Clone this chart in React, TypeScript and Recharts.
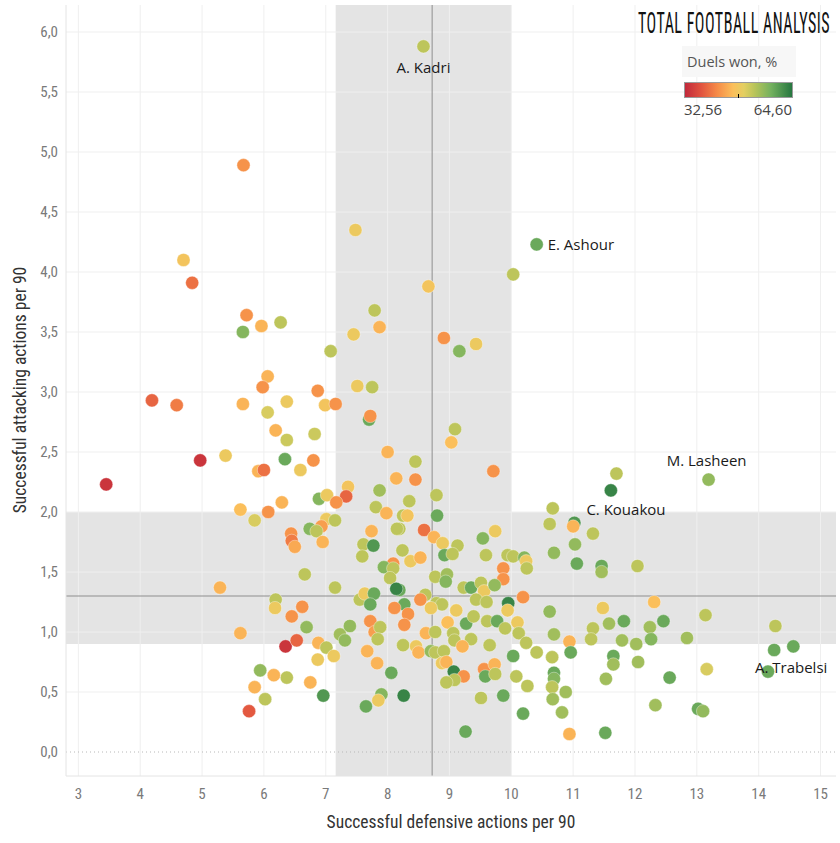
import React from 'react';
import { ScatterChart, Scatter, XAxis, YAxis, ReferenceArea, ReferenceLine } from 'recharts';

// [successful defensive actions p90, successful attacking actions p90, duels won %, label]
type Player = [number, number, number, string?];

const players: Player[] = [
  [8.58, 5.88, 53, 'A. Kadri'], [5.67, 4.89, 43], [10.41, 4.23, 59, 'E. Ashour'], [7.48, 4.35, 49],
  [10.03, 3.98, 53], [8.66, 3.88, 48], [4.70, 4.10, 48], [4.84, 3.91, 40], [5.72, 3.64, 43],
  [5.96, 3.55, 46], [6.27, 3.58, 53], [5.66, 3.50, 57], [7.08, 3.34, 53], [6.06, 3.13, 46],
  [5.98, 3.04, 43], [6.87, 3.01, 43], [4.19, 2.93, 39], [4.59, 2.89, 41], [5.66, 2.90, 46],
  [6.37, 2.92, 49], [6.99, 2.89, 48], [7.16, 2.90, 43], [6.06, 2.83, 51], [6.19, 2.68, 46],
  [6.37, 2.60, 52], [6.82, 2.65, 52], [5.38, 2.47, 49], [7.79, 3.68, 53], [7.87, 3.54, 46],
  [7.45, 3.48, 49], [8.91, 3.45, 43], [9.16, 3.34, 57], [9.43, 3.40, 49], [7.51, 3.05, 49],
  [7.75, 3.04, 53], [7.70, 2.77, 59], [7.72, 2.80, 43], [9.09, 2.69, 53], [9.03, 2.58, 47],
  [9.71, 2.34, 43], [8.45, 2.42, 53], [8.45, 2.27, 43], [8.35, 2.09, 53], [8.79, 2.14, 53],
  [8.80, 1.97, 59], [8.25, 1.97, 53], [8.32, 1.97, 48], [8.19, 1.86, 53], [8.59, 1.85, 40],
  [8.75, 1.79, 46], [8.89, 1.74, 49], [9.13, 1.72, 53], [8.92, 1.64, 59], [9.05, 1.65, 53],
  [8.24, 1.68, 53], [8.37, 1.59, 49], [8.53, 1.62, 46], [9.74, 1.84, 49], [9.54, 1.78, 57],
  [9.59, 1.64, 53], [9.94, 1.64, 53], [10.03, 1.63, 53], [10.21, 1.62, 57], [9.87, 1.53, 43],
  [9.87, 1.44, 43], [8.77, 1.46, 53], [8.96, 1.48, 55], [8.94, 1.42, 57], [9.23, 1.37, 53],
  [9.35, 1.37, 59], [9.51, 1.41, 53], [9.56, 1.34, 49], [9.73, 1.39, 56], [8.19, 1.35, 59],
  [8.61, 1.31, 53], [8.53, 1.27, 43], [8.79, 1.24, 53], [8.88, 1.23, 53], [9.43, 1.27, 53],
  [9.60, 1.25, 53], [9.95, 1.24, 63], [10.19, 1.29, 43], [8.27, 1.23, 59], [9.11, 1.18, 49],
  [8.70, 1.20, 49], [8.33, 1.15, 43], [8.27, 1.06, 43], [8.62, 0.99, 46], [8.77, 1.00, 53],
  [8.97, 1.08, 47], [9.27, 1.07, 59], [9.06, 0.99, 53], [9.39, 1.13, 53], [9.61, 1.09, 53],
  [9.77, 1.09, 59], [9.90, 1.03, 53], [10.10, 1.08, 49], [10.12, 0.99, 53], [9.94, 1.18, 49],
  [9.08, 0.93, 53], [9.35, 0.94, 53], [9.21, 0.88, 46], [8.25, 0.89, 53], [8.46, 0.88, 49],
  [8.50, 0.83, 46], [8.70, 0.84, 56], [8.77, 0.83, 53], [8.91, 0.84, 53], [8.88, 0.74, 49],
  [8.95, 0.75, 46], [9.65, 0.89, 53], [10.03, 0.80, 59], [9.07, 0.67, 63], [9.23, 0.63, 43],
  [9.08, 0.60, 53], [8.95, 0.58, 53], [9.56, 0.69, 43], [9.73, 0.73, 46], [9.58, 0.63, 59],
  [9.74, 0.65, 53], [10.08, 0.63, 53], [10.26, 0.55, 53], [8.26, 0.47, 63], [9.51, 0.45, 53],
  [9.87, 0.47, 59], [10.19, 0.32, 59], [9.26, 0.17, 59], [10.24, 0.91, 53], [6.34, 2.44, 59],
  [6.80, 2.43, 43], [6.59, 2.35, 49], [6.29, 2.08, 46], [6.89, 2.11, 57], [7.02, 2.14, 49],
  [7.36, 2.21, 48], [7.33, 2.13, 39], [7.17, 2.08, 43], [8.00, 2.50, 46], [8.14, 2.28, 46],
  [7.87, 2.18, 55], [7.81, 2.04, 53], [7.98, 1.99, 46], [8.15, 1.86, 53], [7.74, 1.84, 46],
  [7.01, 1.94, 49], [7.15, 1.93, 53], [6.93, 1.88, 44], [6.74, 1.86, 57], [6.85, 1.84, 53],
  [6.44, 1.82, 43], [6.45, 1.76, 41], [6.50, 1.71, 45], [6.95, 1.75, 46], [7.61, 1.73, 53],
  [7.77, 1.72, 61], [7.59, 1.63, 53], [8.09, 1.57, 43], [7.94, 1.54, 57], [8.09, 1.53, 53],
  [8.04, 1.45, 53], [8.14, 1.36, 63], [6.66, 1.48, 53], [7.15, 1.37, 53], [7.55, 1.27, 53],
  [7.63, 1.32, 49], [7.78, 1.32, 59], [7.72, 1.23, 59], [6.62, 1.21, 43], [8.11, 1.20, 43],
  [6.19, 1.27, 53], [6.18, 1.20, 49], [6.45, 1.13, 43], [6.69, 1.04, 56], [6.35, 0.88, 34],
  [6.53, 0.93, 39], [6.88, 0.91, 46], [7.01, 0.87, 53], [7.13, 0.80, 49], [6.87, 0.77, 49],
  [7.23, 0.98, 55], [7.31, 0.93, 56], [7.39, 1.05, 56], [6.37, 0.62, 53], [6.75, 0.58, 46],
  [6.96, 0.47, 61], [7.72, 1.09, 43], [7.79, 1.00, 44], [7.88, 1.04, 53], [7.84, 0.94, 53],
  [7.67, 0.84, 46], [7.83, 0.74, 46], [8.06, 0.66, 59], [7.90, 0.48, 57], [7.85, 0.43, 49],
  [7.65, 0.38, 59], [4.97, 2.43, 34], [5.91, 2.34, 46], [6.00, 2.35, 40], [3.45, 2.23, 34],
  [5.62, 2.02, 47], [5.85, 1.93, 51], [6.07, 2.00, 43], [5.29, 1.37, 46], [5.62, 0.99, 46],
  [5.94, 0.68, 56], [6.16, 0.64, 46], [5.85, 0.54, 46], [6.02, 0.44, 53], [5.76, 0.34, 38],
  [11.61, 2.18, 63], [11.70, 2.32, 53], [13.19, 2.27, 56, 'M. Lasheen'], [10.67, 2.03, 53],
  [10.62, 1.90, 53], [11.02, 1.91, 61, 'C. Kouakou'], [11.00, 1.88, 46], [11.32, 1.82, 53],
  [11.03, 1.73, 56], [10.69, 1.66, 56], [10.24, 1.59, 49], [10.25, 1.53, 53], [11.06, 1.57, 59],
  [11.46, 1.55, 59], [11.46, 1.50, 55], [12.04, 1.55, 53], [10.62, 1.17, 56], [11.48, 1.20, 49],
  [12.31, 1.25, 47], [10.69, 0.98, 55], [10.94, 0.92, 46], [11.32, 1.03, 53], [11.29, 0.94, 53],
  [11.58, 1.07, 55], [11.82, 1.09, 59], [11.79, 0.93, 55], [12.02, 0.90, 55], [12.24, 1.04, 55],
  [12.26, 0.94, 57], [12.46, 1.09, 59], [10.41, 0.83, 53], [10.66, 0.79, 53], [10.96, 0.83, 59],
  [11.65, 0.80, 59], [11.65, 0.73, 55], [12.05, 0.75, 55], [10.69, 0.66, 59], [10.69, 0.61, 57],
  [10.66, 0.54, 53], [10.88, 0.50, 55], [10.67, 0.44, 55], [11.53, 0.61, 55], [12.56, 0.62, 59],
  [10.82, 0.33, 55], [12.33, 0.39, 55], [10.94, 0.15, 46], [11.52, 0.16, 59], [13.14, 1.14, 53],
  [12.84, 0.95, 55], [14.27, 1.05, 53], [14.25, 0.85, 59], [14.56, 0.88, 59],
  [14.15, 0.67, 59, 'A. Trabelsi'], [13.16, 0.69, 51], [13.02, 0.36, 59], [13.10, 0.34, 56],
];

const xTicks = [3, 4, 5, 6, 7, 8, 9, 10, 11, 12, 13, 14, 15];
const yTicks = [0, 0.5, 1, 1.5, 2, 2.5, 3, 3.5, 4, 4.5, 5, 5.5, 6];
const duelRange = [32.56, 64.6];
const avgDefensive = 8.72;
const avgAttacking = 1.3;
const defensiveBand = [7.16, 10.0];
const attackingBand = [0.9, 2.0];

const X_DOMAIN = [2.8, 15.25];
const Y_DOMAIN = [-0.2, 6.225];
const AXIS_FONT = '"Liberation Sans Narrow", "Roboto Condensed", Roboto, sans-serif';
const LABEL_FONT = '"Open Sans", "Noto Sans", sans-serif';

// red -> orange -> yellow -> green diverging ramp
const rampStops: [number, number[]][] = [
  [0, [192, 40, 59]],
  [0.15, [224, 82, 63]],
  [0.3, [245, 138, 71]],
  [0.45, [251, 191, 91]],
  [0.55, [227, 207, 98]],
  [0.65, [184, 196, 90]],
  [0.8, [116, 177, 95]],
  [1, [36, 117, 63]],
];

const rampColor = (t: number) => {
  const v = Math.max(0, Math.min(1, t));
  for (let i = 1; i < rampStops.length; i++) {
    const [t1, c1] = rampStops[i];
    const [t0, c0] = rampStops[i - 1];
    if (v <= t1) {
      const f = (v - t0) / (t1 - t0);
      const c = c0.map((a, k) => Math.round(a + (c1[k] - a) * f));
      return `rgb(${c[0]},${c[1]},${c[2]})`;
    }
  }
  return 'rgb(36,117,63)';
};

const duelColor = (d: number) => rampColor((d - duelRange[0]) / (duelRange[1] - duelRange[0]));

const labelPlacement: Record<string, { dx: number; dy: number; anchor: string }> = {
  'A. Kadri': { dx: 0, dy: 21, anchor: 'middle' },
  'E. Ashour': { dx: 11, dy: 0, anchor: 'start' },
  'M. Lasheen': { dx: -2, dy: -20, anchor: 'middle' },
  'C. Kouakou': { dx: 12, dy: -14, anchor: 'start' },
  'A. Trabelsi': { dx: -13, dy: -5, anchor: 'start' },
};

const renderDot = (props: any) => {
  const { cx, cy } = props;
  const p = props.payload ?? props;
  return (
    <circle cx={cx} cy={cy} r={6.6} fill={duelColor(p.duel)} stroke="#ffffff" strokeWidth={0.6} strokeOpacity={0.6} />
  );
};

const renderLabel = (props: any) => {
  const { cx, cy } = props;
  const p = props.payload ?? props;
  const pos = labelPlacement[p.name] ?? { dx: 8, dy: 0, anchor: 'start' };
  return (
    <text
      x={cx + pos.dx}
      y={cy + pos.dy}
      textAnchor={pos.anchor as any}
      dominantBaseline="central"
      fontFamily={LABEL_FONT}
      fontSize={15}
      fill="#1a1a1a"
    >
      {p.name}
    </text>
  );
};

const fmt = (v: number) => v.toFixed(1).replace('.', ',');

export default function App() {
  const data = players.map(([x, y, duel, name]) => ({ x, y, duel, name }));
  const labelled = data.filter((d) => d.name);
  const gradStops = rampStops.map(([t]) => t);

  return (
    <div style={{ position: 'absolute', left: 0, top: 0, width: 840, height: 843, background: '#ffffff' }}>
      <ScatterChart width={840} height={843} margin={{ top: 5, right: 4, bottom: 0, left: 0 }}>
        <XAxis
          type="number"
          dataKey="x"
          domain={X_DOMAIN}
          ticks={xTicks}
          interval={0}
          allowDataOverflow
          height={67}
          tickLine={false}
          tickMargin={6}
          axisLine={{ stroke: '#e4e4e4' }}
          tick={{ fill: '#7a7a7a', fontSize: 15, fontFamily: AXIS_FONT }}
        />
        <YAxis
          type="number"
          dataKey="y"
          domain={Y_DOMAIN}
          ticks={yTicks}
          interval={0}
          allowDataOverflow
          width={66}
          tickLine={false}
          axisLine={{ stroke: '#e4e4e4' }}
          tickFormatter={fmt}
          tick={{ fill: '#7a7a7a', fontSize: 15, fontFamily: AXIS_FONT }}
        />
        <ReferenceArea x1={defensiveBand[0]} x2={defensiveBand[1]} y1={Y_DOMAIN[0]} y2={Y_DOMAIN[1]} fill="#e4e4e4" fillOpacity={1} stroke="none" />
        <ReferenceArea x1={X_DOMAIN[0]} x2={X_DOMAIN[1]} y1={attackingBand[0]} y2={attackingBand[1]} fill="#e4e4e4" fillOpacity={1} stroke="none" />
        {xTicks.map((t) => (
          <ReferenceLine key={'gx' + t} x={t} stroke="#efefef" strokeWidth={1} />
        ))}
        {yTicks
          .filter((t) => t !== 0)
          .map((t) => (
            <ReferenceLine key={'gy' + t} y={t} stroke="#efefef" strokeWidth={1} />
          ))}
        <ReferenceLine y={0} stroke="#b8b8b8" strokeDasharray="1 3" />
        <ReferenceLine x={avgDefensive} stroke="#8e8e8e" strokeWidth={1} />
        <ReferenceLine y={avgAttacking} stroke="#8e8e8e" strokeWidth={1} />
        <Scatter data={data} shape={renderDot} isAnimationActive={false} />
        <Scatter data={labelled} shape={renderLabel} isAnimationActive={false} />
      </ScatterChart>

      <svg width={840} height={843} style={{ position: 'absolute', left: 0, top: 0, pointerEvents: 'none' }}>
        <defs>
          <linearGradient id="duelRamp" x1="0" x2="1" y1="0" y2="0">
            {gradStops.map((t) => (
              <stop key={t} offset={t} stopColor={rampColor(t)} />
            ))}
          </linearGradient>
        </defs>

        <text x={451} y={822} textAnchor="middle" dominantBaseline="central" fontFamily={AXIS_FONT} fontSize={17.5} fill="#333">
          Successful defensive actions per 90
        </text>
        <text
          transform="translate(20,390) rotate(-90)"
          textAnchor="middle"
          dominantBaseline="central"
          fontFamily={AXIS_FONT}
          fontSize={17.5}
          fill="#333"
        >
          Successful attacking actions per 90
        </text>

        {/* logo */}
        <text
          transform="translate(734,33) scale(1,1.85)"
          textAnchor="middle"
          fontFamily={AXIS_FONT}
          fontSize={16}
          letterSpacing={0.5}
          fill="#111"
        >
          TOTAL FOOTBALL ANALYSIS
        </text>

        {/* colour legend */}
        <rect x={682} y={46} width={114} height={31} fill="#f7f7f7" />
        <text x={687} y={61} dominantBaseline="central" fontFamily={LABEL_FONT} fontSize={14.5} fill="#555">
          Duels won, %
        </text>
        <rect x={684.5} y={82.5} width={108} height={15} fill="url(#duelRamp)" stroke="#9a9a9a" strokeWidth={1} />
        <line x1={738.5} x2={738.5} y1={94} y2={98} stroke="#000" strokeWidth={1} />
        <text x={684} y={109} dominantBaseline="central" fontFamily={LABEL_FONT} fontSize={15} fill="#444">
          {fmt2(duelRange[0])}
        </text>
        <text x={792} y={109} textAnchor="end" dominantBaseline="central" fontFamily={LABEL_FONT} fontSize={15} fill="#444">
          {fmt2(duelRange[1])}
        </text>
      </svg>
    </div>
  );
}

function fmt2(v: number) {
  return v.toFixed(2).replace('.', ',');
}
